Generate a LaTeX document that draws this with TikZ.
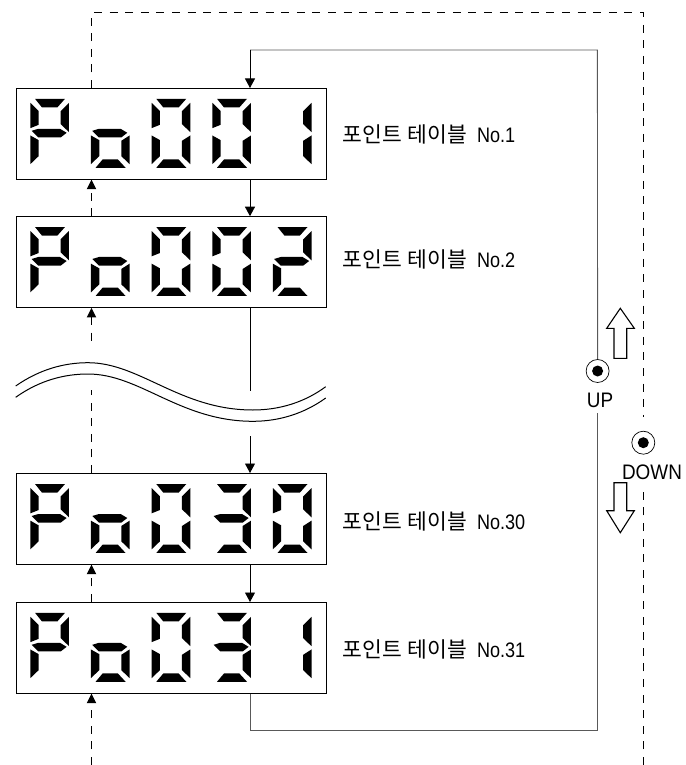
\documentclass[tikz,border=0pt]{standalone}
\usepackage{fontspec}
\setmainfont{Liberation Sans}
\newfontfamily\cjk{Noto Sans CJK KR}
\newfontfamily\latn[FakeStretch=0.86]{Liberation Sans}
\usetikzlibrary{arrows.meta,calc}
\newcommand\segA{\fill (15,0)--(105,0)--(82,26)--(36,26)--cycle;}
\newcommand\segB{\fill (117,12)--(117,100)--(92,76)--(92,37)--cycle;}
\newcommand\segC{\fill (117,110)--(117,196)--(92,172)--(92,126)--cycle;}
\newcommand\segD{\fill (15,207)--(105,207)--(82,182)--(36,182)--cycle;}
\newcommand\segE{\fill (1,110)--(26,124)--(26,172)--(1,196)--cycle;}
\newcommand\segF{\fill (1,12)--(26,37)--(26,78)--(1,88)--cycle;}
\newcommand\segG{\fill (5,96)--(25,90)--(90,90)--(110,102)--(92,116)--(25,116)--cycle;}
\newcommand\digitat[3]{\begin{scope}[shift={(#1,#2)},x=0.3333pt,y=-0.3333pt]
\foreach \s in {#3}{\csname seg\s\endcsname}\end{scope}}
\newcommand\rowat[3]{%
\digitat{30}{#1}{A,B,E,F,G}\digitat{90.6}{#1}{G,C,D,E}\digitat{151.3}{#1}{A,B,C,D,E,F}%
\digitat{212}{#1}{#2}\digitat{272.5}{#1}{#3}}
\newcommand\ptlabel[1]{{\fontsize{21.5pt}{23pt}\selectfont\cjk 포인트\hspace{1pt} 테이블}\hspace{10pt}{\fontsize{21pt}{23pt}\selectfont\latn No.#1}}
\tikzset{
 dispbox/.style={draw,line width=1.2pt,minimum width=310.5pt,minimum height=90.5pt,inner sep=0,anchor=north west},
 sol/.style={line width=0.9pt,black},
 loopline/.style={line width=0.9pt,black!65},
 dsh/.style={line width=0.9pt,dash pattern=on 8pt off 7.6pt},
 tip/.style={-{Triangle[length=9.5pt,width=10pt]}},
 hollow/.style={draw,line width=1.1pt,fill=white,line join=miter},
 wave/.style={line width=1pt},
 lab/.style={anchor=west,inner sep=0},
 btn/.style={circle,draw,line width=0.7pt,minimum size=23pt,inner sep=0},
 dotc/.style={circle,fill,minimum size=11pt,inner sep=0},
 btxt/.style={inner sep=0,xscale=0.9,font=\fontsize{21pt}{23pt}\selectfont},
}
\begin{document}
\begin{tikzpicture}[x=1pt,y=-1pt]
\useasboundingbox (0,0) rectangle (685,765);
% displays
\node[dispbox] (b1) at (15.5,88) {};
\node[dispbox] (b2) at (15.5,216.2) {};
\node[dispbox] (b3) at (15.5,473) {};
\node[dispbox] (b4) at (15.5,602) {};
\rowat{98.8}{A,B,C,D,E,F}{B,C}
\rowat{227}{A,B,C,D,E,F}{A,B,G,E,D}
\rowat{484}{A,B,G,C,D}{A,B,C,D,E,F}
\rowat{612.8}{A,B,G,C,D}{B,C}
% guide coordinates
\coordinate (sx) at (250,0);
\coordinate (dx) at (91.5,0);
\coordinate (sBreakA) at (250,391);
\coordinate (sBreakB) at (250,436);
\coordinate (dBreakA) at (91.5,345);
\coordinate (dBreakB) at (91.5,390);
\coordinate (loopTL) at (250,50);
\coordinate (loopTR) at (597.4,50);
\coordinate (loopBL) at (250,730);
\coordinate (loopBR) at (597.4,730);
\coordinate (loopGap) at (597.4,413);
\coordinate (dashTL) at (91.5,12.5);
\coordinate (dashTR) at (643.3,12.5);
\coordinate (dashGapA) at (643.3,416.7);
\coordinate (dashGapB) at (643.3,491.7);
\coordinate (dashEnd) at (643.3,765);
\coordinate (dashStart) at (91.5,765);
% buttons
\node[btn] (up) at (597.6,371) {};
\node[dotc] (upd) at (597.6,371) {};
\node[btn] (down) at (643.3,442.7) {};
\node[dotc] (downd) at (643.3,442.7) {};
\node[btxt] (uplab) at (600,400.5) {UP};
\node[btxt] (downlab) at (652,472.5) {DOWN};
% solid connectors
\draw[sol,tip] (b1.south -| sx) -- (b2.north -| sx);
\draw[sol] (b2.south -| sx) -- (sBreakA);
\draw[sol,tip] (sBreakB) -- (b3.north -| sx);
\draw[sol,tip] (b3.south -| sx) -- (b4.north -| sx);
\draw[loopline] (b4.south -| sx) -- (loopBL) -- (loopBR) -- (loopGap);
\draw[loopline] (up.north) -- (loopTR) -- (loopTL);
\draw[sol,tip] (loopTL) -- (b1.north -| sx);
% dashed connectors
\draw[dsh] (b4.north -| dx) -- ++(0,-28.5);
\draw[dsh] (b1.north -| dx) -- (dashTL) -- (dashTR) -- (dashGapA);
\draw[dsh] (dashEnd) -- (dashGapB);
\draw[dsh] (b2.north -| dx) -- ++(0,-27);
\draw[dsh] ($(b2.south -| dx)+(0,9)$) -- (dBreakA);
\draw[dsh] (b3.north -| dx) -- (dBreakB);
\draw[dsh] (dashStart) -- ($(b4.south -| dx)+(0,9)$);
\foreach \n in {b1,b2,b3,b4}{
 \fill (\n.south -| dx) ++(-4.8,9.5) -- ++(9.6,0) -- ++(-4.8,-9.5) -- cycle;
}
% wave
\draw[wave] (15.7,386) .. controls (40,369) and (65,362.7) .. (88,362.7) .. controls (140,362.7) and (180,410) .. (253,410) .. controls (280,410) and (305,402) .. (325.7,386.7);
\draw[wave] (15.7,397.3) .. controls (40,380) and (65,374) .. (88,374) .. controls (140,374) and (180,421.3) .. (253,421.3) .. controls (280,421.3) and (305,413) .. (325.7,398);
% hollow arrows
\draw[hollow] (620.3,308.3) -- (634.3,328.3) -- (626.7,328.3) -- (626.7,358.3) -- (614,358.3) -- (614,328.3) -- (606.7,328.3) -- cycle;
\draw[hollow] (620.3,532.7) -- (634.3,510.7) -- (626.7,510.7) -- (626.7,482.7) -- (614,482.7) -- (614,510.7) -- (606.7,510.7) -- cycle;
% labels
\node[lab] (l1) at (342.3,134) {\ptlabel{1}};
\node[lab] (l2) at (342.3,259) {\ptlabel{2}};
\node[lab] (l3) at (342.3,521) {\ptlabel{30}};
\node[lab] (l4) at (342.3,649) {\ptlabel{31}};
\end{tikzpicture}
\end{document}
